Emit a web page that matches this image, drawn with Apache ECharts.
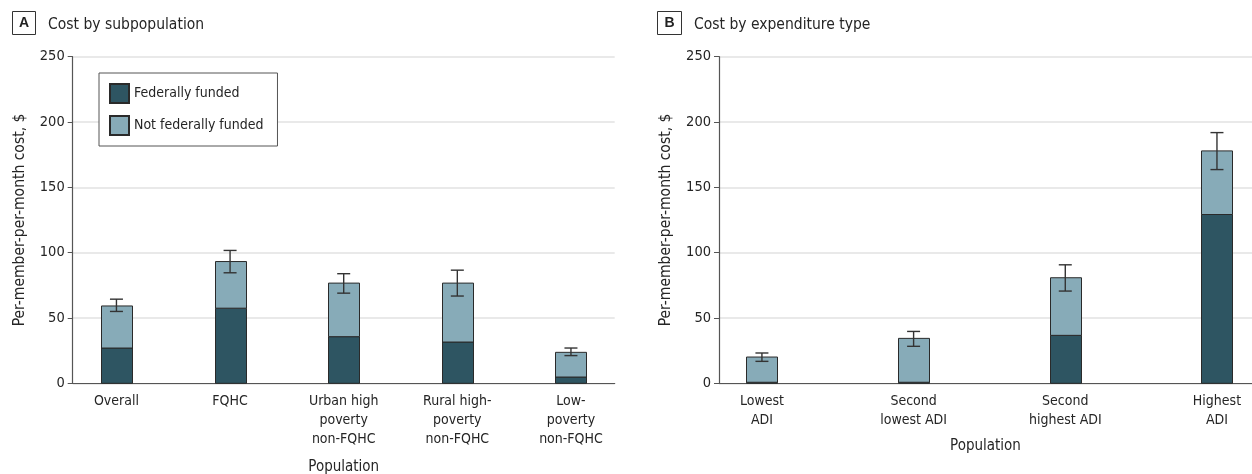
<!DOCTYPE html>
<html>
<head>
<meta charset="utf-8">
<script src="https://cdn.jsdelivr.net/npm/echarts@6/dist/echarts.min.js"></script>
<style>
html, body { margin: 0; padding: 0; background: #fff; }
#main { width: 1252px; height: 474px; }
</style>
</head>
<body>
<div id="main"></div>
<script>
// panel A: cost by subpopulation
var categoriesA = ['Overall', 'FQHC', 'Urban high\npoverty\nnon-FQHC', 'Rural high-\npoverty\nnon-FQHC', 'Low-\npoverty\nnon-FQHC'];
var fedA = [27, 57.5, 35.7, 31.6, 4.8];
var nonFedA = [32.2, 35.7, 41, 45.1, 18.9];
var ciLowA = [55, 84.6, 69, 66.8, 21.2];
var ciHighA = [64.4, 101.7, 83.9, 86.6, 27];

// panel B: cost by expenditure type
var categoriesB = ['Lowest\nADI', 'Second\nlowest ADI', 'Second\nhighest ADI', 'Highest\nADI'];
var fedB = [0.8, 0.8, 36.7, 129.2];
var nonFedB = [19.3, 33.6, 44.1, 48.7];
var ciLowB = [16.8, 28.3, 70.6, 163.6];
var ciHighB = [23.2, 39.7, 90.7, 191.9];

var FONT = "'DejaVu Sans Condensed', 'Liberation Sans Narrow', sans-serif";
var DARK = '#2e5562';
var LIGHT = '#87abb8';
var TXT = '#252525';

//堆叠: 每段 [x, 起点, 终点]
var bottomSeg = function(vals) {
	return vals.map(function(v, i) { return [i, 0, v]; });
};
var topSeg = function(base, vals) {
	return vals.map(function(v, i) { return [i, base[i], base[i] + v]; });
};
var toCI = function(lo, hi) {
	return lo.map(function(v, i) { return [i, v, hi[i]]; });
};

var barRect = function(params, api) {
	var x = api.value(0);
	var top = api.coord([x, api.value(2)]);
	var bot = api.coord([x, api.value(1)]);
	var w = 31;
	return {
		type: 'rect',
		shape: { x: Math.round(top[0] - w / 2) + 0.5, y: top[1], width: w, height: bot[1] - top[1] },
		style: { fill: api.visual('color'), stroke: '#2a2a2a', lineWidth: 1 }
	};
};

//误差线
var errorBar = function(params, api) {
	var x = api.value(0);
	var top = api.coord([x, api.value(2)]);
	var bot = api.coord([x, api.value(1)]);
	var hw = 6.5;
	var st = { stroke: '#333', lineWidth: 1.4 };
	return {
		type: 'group',
		children: [
			{ type: 'line', shape: { x1: top[0], y1: top[1], x2: bot[0], y2: bot[1] }, style: st },
			{ type: 'line', shape: { x1: top[0] - hw, y1: top[1], x2: top[0] + hw, y2: top[1] }, style: st },
			{ type: 'line', shape: { x1: bot[0] - hw, y1: bot[1], x2: bot[0] + hw, y2: bot[1] }, style: st }
		]
	};
};

var makeX = function(idx, cats, min, max, gap) {
	return {
		type: 'value', gridIndex: idx, min: min, max: max,
		name: 'Population', nameLocation: 'middle', nameGap: gap,
		nameTextStyle: { fontFamily: FONT, fontSize: 15, color: TXT },
		axisLine: { show: true, lineStyle: { color: '#555', width: 1.2 } },
		axisTick: { show: false },
		splitLine: { show: false },
		axisLabel: {
			customValues: cats.map(function(c, i) { return i; }),
			formatter: function(v) { return cats[Math.round(v)]; },
			fontFamily: FONT, fontSize: 14, color: TXT, lineHeight: 19, margin: 9
		}
	};
};

var makeY = function(idx) {
	return {
		type: 'value', gridIndex: idx, min: 0, max: 250, interval: 50,
		name: 'Per-member-per-month cost, $', nameLocation: 'middle', nameGap: 45,
		nameTextStyle: { fontFamily: FONT, fontSize: 15.5, color: TXT },
		axisLine: { show: true, onZero: false, lineStyle: { color: '#555', width: 1.2 } },
		axisTick: { show: true, length: 5, lineStyle: { color: '#555' } },
		splitLine: { show: true, lineStyle: { color: '#e2e2e2', width: 1.5 } },
		axisLabel: { fontFamily: FONT, fontSize: 14.5, color: TXT, margin: 8 }
	};
};

var barSeries = function(name, data, idx, color) {
	return {
		name: name, type: 'custom', xAxisIndex: idx, yAxisIndex: idx, z: 3,
		renderItem: barRect, data: data, encode: { x: 0, y: [1, 2] },
		itemStyle: { color: color, borderColor: '#2a2a2a', borderWidth: 1 }
	};
};

var chart = echarts.init(document.getElementById('main'));
chart.setOption({
	animation: false,
	textStyle: { fontFamily: FONT },
	title: [
		{ text: 'Cost by subpopulation', left: 43, top: 12, textStyle: { fontFamily: FONT, fontSize: 15.5, fontWeight: 'normal', color: TXT } },
		{ text: 'Cost by expenditure type', left: 689, top: 12, textStyle: { fontFamily: FONT, fontSize: 15.5, fontWeight: 'normal', color: TXT } }
	],
	graphic: [
		{ type: 'rect', shape: { x: 12.5, y: 11.5, width: 23, height: 23 }, style: { fill: '#fff', stroke: '#333', lineWidth: 1 } },
		{ type: 'text', x: 24, y: 23, style: { text: 'A', fontFamily: 'Liberation Sans', fontWeight: 'bold', fontSize: 14, fill: '#222', align: 'center', verticalAlign: 'middle' } },
		{ type: 'rect', shape: { x: 657.5, y: 11.5, width: 24, height: 23 }, style: { fill: '#fff', stroke: '#333', lineWidth: 1 } },
		{ type: 'text', x: 669.5, y: 23, style: { text: 'B', fontFamily: 'Liberation Sans', fontWeight: 'bold', fontSize: 14, fill: '#222', align: 'center', verticalAlign: 'middle' } }
	],
	legend: {
		data: ['Federally funded', 'Not federally funded'],
		orient: 'vertical', left: 99, top: 73,
		padding: [10, 14, 10, 10], itemGap: 11,
		itemWidth: 19, itemHeight: 19, icon: 'rect',
		borderColor: '#555', borderWidth: 1, backgroundColor: '#fff',
		textStyle: { fontFamily: FONT, fontSize: 14, color: TXT },
		selectedMode: false
	},
	grid: [
		{ left: 72.7, top: 56.7, width: 542, bottom: 90.7, outerBoundsMode: 'none' },
		{ left: 719, top: 56.7, right: 0, bottom: 90.7, outerBoundsMode: 'none' }
	],
	xAxis: [
		makeX(0, categoriesA, -0.385, 4.385, 76),
		makeX(1, categoriesB, -0.283, 3.231, 55)
	],
	yAxis: [makeY(0), makeY(1)],
	series: [
		barSeries('Federally funded', bottomSeg(fedA), 0, DARK),
		barSeries('Not federally funded', topSeg(fedA, nonFedA), 0, LIGHT),
		barSeries('Federally funded', bottomSeg(fedB), 1, DARK),
		barSeries('Not federally funded', topSeg(fedB, nonFedB), 1, LIGHT),
		{ type: 'custom', xAxisIndex: 0, yAxisIndex: 0, z: 5, renderItem: errorBar, data: toCI(ciLowA, ciHighA), encode: { x: 0, y: [1, 2] } },
		{ type: 'custom', xAxisIndex: 1, yAxisIndex: 1, z: 5, renderItem: errorBar, data: toCI(ciLowB, ciHighB), encode: { x: 0, y: [1, 2] } }
	]
});
</script>
</body>
</html>
